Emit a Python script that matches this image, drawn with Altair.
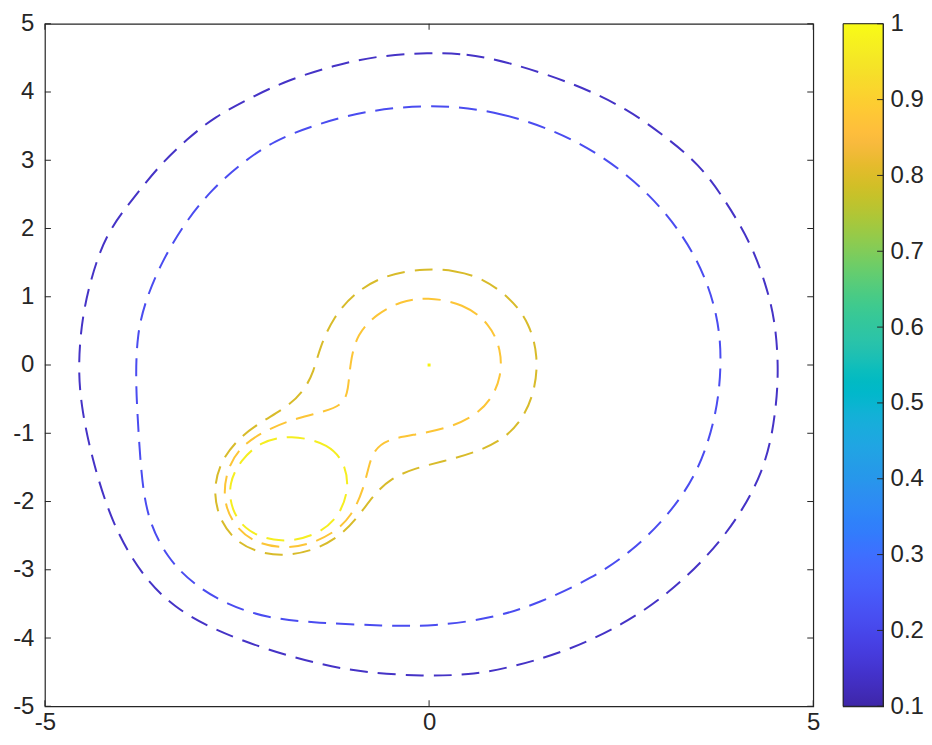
import altair as alt
import pandas as pd

# ---------------- data ----------------
levels = [0.15, 0.2, 0.8, 0.87, 0.97]

c015_x = [0.01, 0.48, 1.0, 1.91, 2.6, 3.08, 3.51, 3.86, 4.2, 4.38, 4.5, 4.55, 4.52, 4.38, 3.86, 3.16, 2.52,
          1.78, 1.04, 0.52, -0.07, -0.81, -1.42, -2.11, -2.76, -3.32, -3.75, -4.14, -4.40, -4.53, -4.57,
          -4.51, -4.32, -4.14, -3.84, -3.49, -3.15, -2.80, -2.32, -1.85, -1.24, -0.68]
c015_y = [4.58, 4.56, 4.45, 4.12, 3.74, 3.34, 2.95, 2.41, 1.76, 1.19, 0.68, 0.0, -0.65, -1.56, -2.54, -3.32, -3.81,
          -4.20, -4.44, -4.54, -4.56, -4.51, -4.39, -4.17, -3.90, -3.56, -3.07, -2.30, -1.32, -0.59, 0.0,
          0.80, 1.58, 2.02, 2.46, 2.95, 3.31, 3.63, 3.92, 4.17, 4.39, 4.53]

c02_x = [0.01, 0.91, 2.0, 2.91, 3.51, 3.77, 3.81, 3.74, 3.51, 3.12, 2.64, 2.13, 1.43, 0.83, 0.06, -0.59,
         -1.46, -2.11, -2.63, -3.06, -3.41, -3.67, -3.75, -3.79, -3.82, -3.80, -3.69, -3.49, -3.19, -2.84,
         -2.45, -2.02, -1.46, -0.81]
c02_y = [3.82, 3.73, 3.29, 2.51, 1.58, 0.71, 0.0, -0.75, -1.56, -2.20, -2.73, -3.12, -3.49, -3.71, -3.83, -3.82,
         -3.78, -3.71, -3.51, -3.22, -2.83, -2.25, -1.56, -0.83, -0.2, 0.46, 0.95, 1.49, 2.07, 2.56,
         2.95, 3.29, 3.53, 3.73]

c08_x = [-0.03, 0.35, 0.66, 1.05, 1.31, 1.42, 1.38, 1.22, 0.96, 0.58, 0.19, -0.18, -0.50, -0.72, -0.92, -1.15,
         -1.46, -1.85, -2.20, -2.50, -2.71, -2.81, -2.74, -2.50, -2.20, -1.85, -1.63, -1.50, -1.42, -1.24,
         -0.98, -0.59]
c08_y = [1.42, 1.38, 1.29, 1.0, 0.61, 0.12, -0.37, -0.80, -1.10, -1.29, -1.41, -1.51, -1.66, -1.90, -2.22, -2.50,
         -2.70, -2.80, -2.76, -2.60, -2.31, -1.90, -1.46, -1.09, -0.84, -0.62, -0.38, -0.10, 0.27, 0.71,
         1.05, 1.32]

c087_x = [-0.03, 0.45, 0.79, 0.94, 0.94, 0.81, 0.58, 0.23, -0.18, -0.55, -0.72, -0.79, -0.85, -1.0, -1.26,
          -1.59, -1.90, -2.30, -2.58, -2.69, -2.61, -2.40, -2.06, -1.70, -1.35, -1.12, -1.05, -1.03, -0.94,
          -0.68, -0.38]
c087_y = [1.0, 0.90, 0.61, 0.22, -0.17, -0.51, -0.76, -0.93, -1.02, -1.09, -1.25, -1.50, -1.80, -2.21, -2.48,
          -2.64, -2.69, -2.60, -2.30, -1.90, -1.45, -1.14, -0.92, -0.77, -0.68, -0.58, -0.37, 0.02, 0.46,
          0.75, 0.93]

c097_x = [-1.81, -1.29, -1.07, -1.05, -1.20, -1.50, -1.92, -2.37, -2.58, -2.61, -2.45, -2.19]
c097_y = [-1.02, -1.15, -1.49, -1.88, -2.27, -2.51, -2.61, -2.46, -2.12, -1.73, -1.39, -1.12]

peak_x = [0.0]
peak_y = [0.0]

x_ticks = [-5, 0, 5]
y_ticks = [-5, -4, -3, -2, -1, 0, 1, 2, 3, 4, 5]
cbar_ticks = [0.1, 0.2, 0.3, 0.4, 0.5, 0.6, 0.7, 0.8, 0.9, 1]

# ---------------- style ----------------
line_colors = ["#4533c6", "#4a4cf0", "#d8bb2a", "#fcc536", "#f5ee20"]
parula = ["#3e26a8", "#402ab4", "#422ec0", "#4332cb", "#4537d5", "#463cde", "#4741e5", "#4747eb",
          "#484df0", "#4852f4", "#4758f8", "#465efb", "#4563fd", "#4269fe", "#3e6fff", "#3875fe",
          "#327cfc", "#2f81fa", "#2e87f7", "#2d8cf3", "#2b91ef", "#2797eb", "#259be8", "#23a0e5",
          "#20a5e3", "#1ca9df", "#18addb", "#12b1d6", "#08b5d0", "#01b8ca", "#02bac3", "#0bbdbd",
          "#19bfb6", "#24c1ae", "#2cc4a7", "#31c69f", "#37c897", "#3fca8e", "#4acb84", "#57cc7a",
          "#64cd6f", "#72cd64", "#81cc59", "#8fcb4e", "#9dc943", "#abc739", "#b9c431", "#c5c22a",
          "#d1bf27", "#dcbd29", "#e6bb2d", "#f0ba36", "#f8ba3d", "#febe3c", "#fec338", "#fec934",
          "#fccf30", "#fad62d", "#f7dc2a", "#f5e327", "#f5e924", "#f6ef20", "#f7f51b", "#f9fb15"]
AX = "#262626"
FONT = "Liberation Sans"
FS = 24
W, H = 770, 684
CBW = 40
TL = 6

rows = []
for lev, xs, ys in [(0.15, c015_x, c015_y), (0.2, c02_x, c02_y), (0.8, c08_x, c08_y),
                    (0.87, c087_x, c087_y), (0.97, c097_x, c097_y)]:
    for i, (a, b) in enumerate(zip(xs, ys)):
        rows.append({"x": a, "y": b, "level": str(lev), "i": i})
contours = pd.DataFrame(rows)
peak = pd.DataFrame({"x": peak_x, "y": peak_y})
xt = pd.DataFrame({"x": x_ticks})
yt = pd.DataFrame({"y": y_ticks})
ct = pd.DataFrame({"lo": cbar_ticks})
cb = pd.DataFrame({"lo": [min(cbar_ticks)], "hi": [max(cbar_ticks)]})

xs_ = alt.Scale(domain=[x_ticks[0], x_ticks[-1]], nice=False, zero=False)
ys_ = alt.Scale(domain=[y_ticks[0], y_ticks[-1]], nice=False, zero=False)
cs_ = alt.Scale(domain=[min(cbar_ticks), max(cbar_ticks)], nice=False, zero=False)

common_axis = dict(title=None, domain=False, ticks=False, grid=False, labelFont=FONT,
                   labelFontSize=FS, labelColor=AX, labelExpr="'' + datum.value")
xaxis = alt.Axis(values=x_ticks, labelPadding=4, labelFlush=False, **common_axis)
yaxis = alt.Axis(values=y_ticks, labelPadding=11, labelFlush=False, **common_axis)
caxis = alt.Axis(orient="right", values=cbar_ticks, labelPadding=7, labelFlush=False, **common_axis)

X = alt.X("x:Q", scale=xs_, axis=xaxis)
Y = alt.Y("y:Q", scale=ys_, axis=yaxis)

lines = alt.Chart(contours).mark_line(strokeDash=[18, 10], strokeWidth=2,
                                      interpolate="basis-closed").encode(
    x=X, y=Y,
    color=alt.Color("level:N", scale=alt.Scale(domain=[str(l) for l in levels], range=line_colors),
                    legend=None),
    detail="level:N",
    order="i:Q",
)
dot = alt.Chart(peak).mark_square(size=9, color="#f6f20f", opacity=1).encode(x=X, y=Y)

tick_style = dict(color=AX, strokeWidth=1)
yl = alt.Chart(yt).mark_rule(**tick_style).encode(y=Y, x=alt.value(0), x2=alt.value(TL))
yr = alt.Chart(yt).mark_rule(**tick_style).encode(y=Y, x=alt.value(W - TL), x2=alt.value(W))
xtop = alt.Chart(xt).mark_rule(**tick_style).encode(x=X, y=alt.value(0), y2=alt.value(TL))
xbot = alt.Chart(xt).mark_rule(**tick_style).encode(x=X, y=alt.value(H - TL), y2=alt.value(H))

main = alt.layer(lines, dot, yl, yr, xtop, xbot).properties(width=W, height=H)

grad = alt.Gradient(gradient="linear",
                    stops=[alt.GradientStop(color=c, offset=k / (len(parula) - 1)) for k, c in enumerate(parula)],
                    x1=0, x2=0, y1=1, y2=0)
CY = alt.Y("lo:Q", scale=cs_, axis=caxis)
cbar_rect = alt.Chart(cb).mark_rect(fill=grad, stroke=AX, strokeWidth=1).encode(
    x=alt.value(0), x2=alt.value(CBW), y=CY, y2="hi:Q")
cbar_ticks_l = alt.Chart(ct).mark_rule(**tick_style).encode(
    y=CY, x=alt.value(CBW - TL), x2=alt.value(CBW))
cbar = alt.layer(cbar_rect, cbar_ticks_l).properties(width=CBW, height=H)

chart = alt.hconcat(main, cbar, spacing=30, bounds="flush").resolve_scale(
    x="independent", y="independent", color="independent"
).properties(
    padding={"left": 4, "top": 2, "right": 0, "bottom": 0},
    background="white",
).configure_view(stroke=AX, strokeWidth=1.2)

chart.save("out.html", embed_options={"renderer": "svg", "actions": False})
